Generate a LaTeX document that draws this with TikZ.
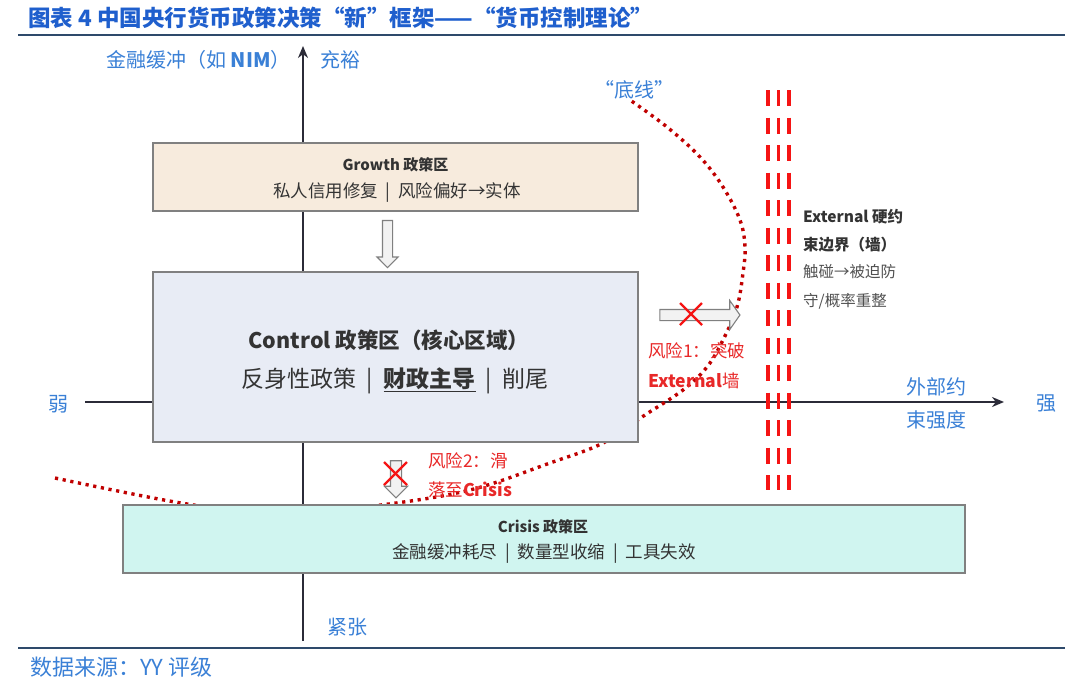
\documentclass[tikz,border=0pt]{standalone}
\usepackage{fontspec}
\setmainfont{Noto Sans CJK SC}
\usetikzlibrary{shapes.arrows,arrows.meta}
\definecolor{titleblue}{RGB}{31,95,205}
\definecolor{lblblue}{RGB}{58,128,214}
\definecolor{axisdark}{RGB}{43,43,56}
\definecolor{rulecol}{RGB}{46,74,107}
\definecolor{boxgray}{RGB}{128,128,128}
\definecolor{growthfill}{RGB}{247,235,221}
\definecolor{controlfill}{RGB}{232,236,245}
\definecolor{crisisfill}{RGB}{208,245,240}
\definecolor{txtdark}{RGB}{51,51,51}
\definecolor{txtgray}{RGB}{80,80,80}
\definecolor{riskred}{RGB}{232,40,40}
\definecolor{wallred}{RGB}{245,20,20}
\definecolor{dotred}{RGB}{192,0,0}
\definecolor{arrowfill}{RGB}{242,242,242}
\newcommand{\vsep}{\hspace{0.45em}|\hspace{0.45em}}
\begin{document}
\begin{tikzpicture}[x=1pt,y=-1pt,
  lbl/.style={font=\fontsize{20}{23}\selectfont, text=lblblue, inner sep=0pt},
  zonebox/.style={draw=boxgray, line width=1.2pt, inner sep=0pt},
  boxtitle/.style={font=\fontsize{15}{17}\selectfont\bfseries, text=txtdark, inner sep=0pt},
  boxline/.style={font=\fontsize{17.5}{20}\selectfont, text=txtdark, inner sep=0pt},
  risktxt/.style={font=\fontsize{17.5}{20}\selectfont, text=riskred, inner sep=0pt, anchor=west},
  walltxt/.style={font=\fontsize{15.5}{18}\selectfont, inner sep=0pt, anchor=west},
  hollow/.style={single arrow, draw=boxgray, fill=arrowfill, line width=1.1pt, single arrow head indent=0pt},
  redx/.style={draw=wallred, line width=2.4pt},
  wall/.style={draw=wallred, line width=3.6pt, dash pattern=on 16pt off 11.5pt},
  bottomline/.style={draw=dotred, line width=3.4pt, dash pattern=on 3.2pt off 4.6pt},
  axis/.style={draw=axisdark, line width=2.6pt, -{Stealth[length=12pt,width=10pt]}}
]
\useasboundingbox (0,0) rectangle (1080,689);
% title and rules
\node[anchor=west, inner sep=0pt, font=\fontsize{22.5}{25}\selectfont\bfseries, text=titleblue] (title) at (28,18) {图表 4 中国央行货币政策决策“新”框架——“货币控制理论”};
\coordinate (r1a) at (18,35); \coordinate (r1b) at (1065,35);
\draw[rulecol, line width=2.2pt] (r1a) -- (r1b);
\coordinate (r2a) at (18,648); \coordinate (r2b) at (1065,648);
\draw[rulecol, line width=1.2pt] (r2a) -- (r2b);
\node[anchor=west, inner sep=0pt, font=\fontsize{22}{25}\selectfont, text=lblblue] (src) at (30,667) {数据来源：YY 评级};

% axes
\coordinate (vb) at (303,641); \coordinate (vt) at (303,46);
\coordinate (hl) at (85,402); \coordinate (hr) at (1004,402);
\draw[axis] (vb) -- (vt);
\draw[axis] (hl) -- (hr);

% red wall
\foreach \x/\n in {768/wa,778.5/wb,789/wc}{
  \coordinate (\n t) at (\x,90); \coordinate (\n b) at (\x,490);
  \draw[wall] (\n t) -- (\n b);
}

% dotted bottom line
\draw[bottomline] plot[smooth, tension=0.6] coordinates {(55,478) (187,504) (285,514) (381,505) (470,490) (550,463) (603,443) (645,415) (683,390) (707,367) (723,340) (737,307) (743,273) (745,247) (740,220) (723,187) (700,157) (667,127) (630,100)};

% zone boxes
\node[zonebox, fill=growthfill, minimum width=485pt, minimum height=68pt] (growth) at (395.5,177) {};
\node[zonebox, fill=controlfill, minimum width=485pt, minimum height=170pt] (control) at (395.5,357) {};
\node[zonebox, fill=crisisfill, minimum width=842pt, minimum height=68pt] (crisis) at (544,539) {};

\node[boxtitle] (gt) at (395.5,165) {Growth 政策区};
\node[boxline] (gl) at (397,193) {私人信用修复\vsep 风险偏好→实体};
\node[inner sep=0pt, font=\fontsize{21.5}{25}\selectfont\bfseries, text=txtdark] (ct) at (389,340) {Control 政策区（核心区域）};
\node[inner sep=0pt, font=\fontsize{23}{27}\selectfont, text=txtdark] (cl) at (395,381) {反身性政策\vsep\underline{\textbf{财政主导}}\vsep 削尾};
\node[boxtitle] (kt) at (543,527) {Crisis 政策区};
\node[boxline] (kl) at (544,554) {金融缓冲耗尽\vsep 数量型收缩\vsep 工具失效};

% hollow arrows
\node[hollow, rotate=-90, minimum height=47pt, inner sep=4.5pt, single arrow head extend=5.5pt] (a1) at (387.5,241.5) {};
\node[hollow, minimum height=80pt, inner sep=5pt, single arrow head extend=9pt, single arrow tip angle=110] (a2) at (698,315) {};
\node[hollow, rotate=-90, minimum height=37pt, inner sep=5pt, single arrow head extend=6pt] (a3) at (396,476.5) {};

% red crosses
\coordinate (x1a) at (680,303); \coordinate (x1b) at (702,325);
\coordinate (x1c) at (680,325); \coordinate (x1d) at (702,303);
\draw[redx] (x1a) -- (x1b); \draw[redx] (x1c) -- (x1d);
\coordinate (x2a) at (384,462); \coordinate (x2b) at (407,485);
\coordinate (x2c) at (384,485); \coordinate (x2d) at (407,462);
\draw[redx] (x2a) -- (x2b); \draw[redx] (x2c) -- (x2d);

% risk texts
\node[risktxt] (r1) at (648,351) {风险1：突破};
\node[risktxt] (r1b) at (648,381) {\textbf{External}墙};
\node[risktxt] (r2) at (428,461) {风险2：滑};
\node[risktxt] (r2b) at (428,490) {落至\textbf{Crisis}};

% wall texts
\node[walltxt, text=txtdark, font=\fontsize{15.5}{18}\selectfont\bfseries] (w1) at (803,217) {External 硬约};
\node[walltxt, text=txtdark, font=\fontsize{15.5}{18}\selectfont\bfseries] (w2) at (803,245) {束边界（墙）};
\node[walltxt, text=txtgray] (w3) at (803,272) {触碰→被迫防};
\node[walltxt, text=txtgray] (w4) at (803,301) {守/概率重整};

% axis labels
\node[lbl, anchor=east] (ylab) at (291,60) {金融缓冲（如 \textbf{NIM}）};
\node[lbl, anchor=west] (ytop) at (320,60) {充裕};
\node[lbl, anchor=west] (ybot) at (327,627) {紧张};
\node[lbl] (xl) at (58,404) {弱};
\node[lbl] (xr) at (1046,404) {强};
\node[lbl, anchor=west] (xlab1) at (906,387) {外部约};
\node[lbl, anchor=west] (xlab2) at (906,420) {束强度};
\node[lbl, anchor=west] (floor) at (594,90) {“底线”};
\end{tikzpicture}
\end{document}
